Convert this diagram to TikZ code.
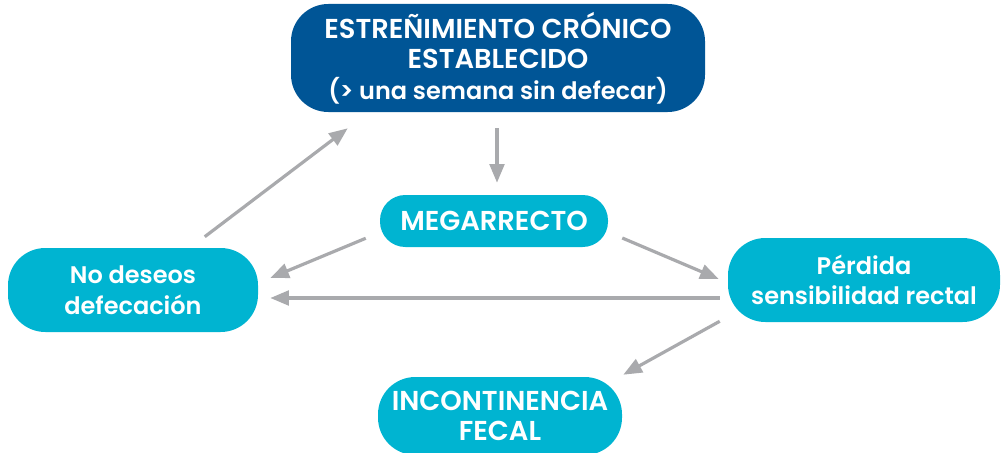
\documentclass[tikz,border=0pt]{standalone}
\usepackage{fontspec}
\setmainfont{Poppins}[BoldFont={* SemiBold}]
\usetikzlibrary{
  	positioning,
  	arrows.meta,
  	calc
  }
\definecolor{darkblue}{HTML}{005596}
\definecolor{cyanbox}{HTML}{00B4D1}
\definecolor{arrowgrey}{HTML}{A9AAAD}
\newcommand{\capsz}{\fontsize{20.5}{23}\selectfont}

\begin{document}
\begin{tikzpicture}[x=.75pt, y=-.75pt,
	box/.style={fill=cyanbox, text=white, align=center, inner sep=0pt,
		font=\fontsize{18}{23}\selectfont\bfseries, rounded corners=28pt},
	arr/.style={draw=arrowgrey, line width=2.4pt, -{Triangle[length=14pt, width=11pt]}}]
	\useasboundingbox (0,0) rectangle (1003,453);
	\node[box, fill=darkblue, minimum width=414*.75pt, minimum height=108*.75pt] (Top) at (498,58)
		{{\capsz ESTREÑIMIENTO CRÓNICO}\\{\capsz ESTABLECIDO}\\(> una semana sin defecar)};
	\node[box, font=\capsz\bfseries, minimum width=228*.75pt, minimum height=52*.75pt, rounded corners=19pt] (Meg) at (494,221) {MEGARRECTO};
	\node[box, minimum width=250*.75pt, minimum height=84*.75pt] (Nd) at (133,290) {No deseos\\defecación};
	\node[box, minimum width=272*.75pt, minimum height=84*.75pt] (Pr) at (864,280) {Pérdida\\sensibilidad rectal};
	\node[box, font=\capsz\bfseries, minimum width=244*.75pt, minimum height=78*.75pt] (Inc) at (500,416) {INCONTINENCIA\\FECAL};
%
	\draw[arr] ($(Nd.north west)+(197,-11)$) -- ($(Top.south west)+(57,16)$);
	\draw[arr] ($(Top.south)+(-1,16)$) -- ($(Meg.north)+(3,-12)$);
	\draw[arr] ($(Meg.south west)+(-14,-9)$) -- ($(Nd.east)+(12,-12)$);
	\draw[arr] ($(Pr.west)+(-8,18)$) -- ($(Nd.east)+(12,8)$);
	\draw[arr] ($(Meg.east)+(14,17)$) -- ($(Pr.west)+(-9,-1)$);
	\draw[arr] ($(Pr.south west)+(-8,-1)$) -- ($(Inc.north east)+(1,-2)$);
\end{tikzpicture}
\end{document}
